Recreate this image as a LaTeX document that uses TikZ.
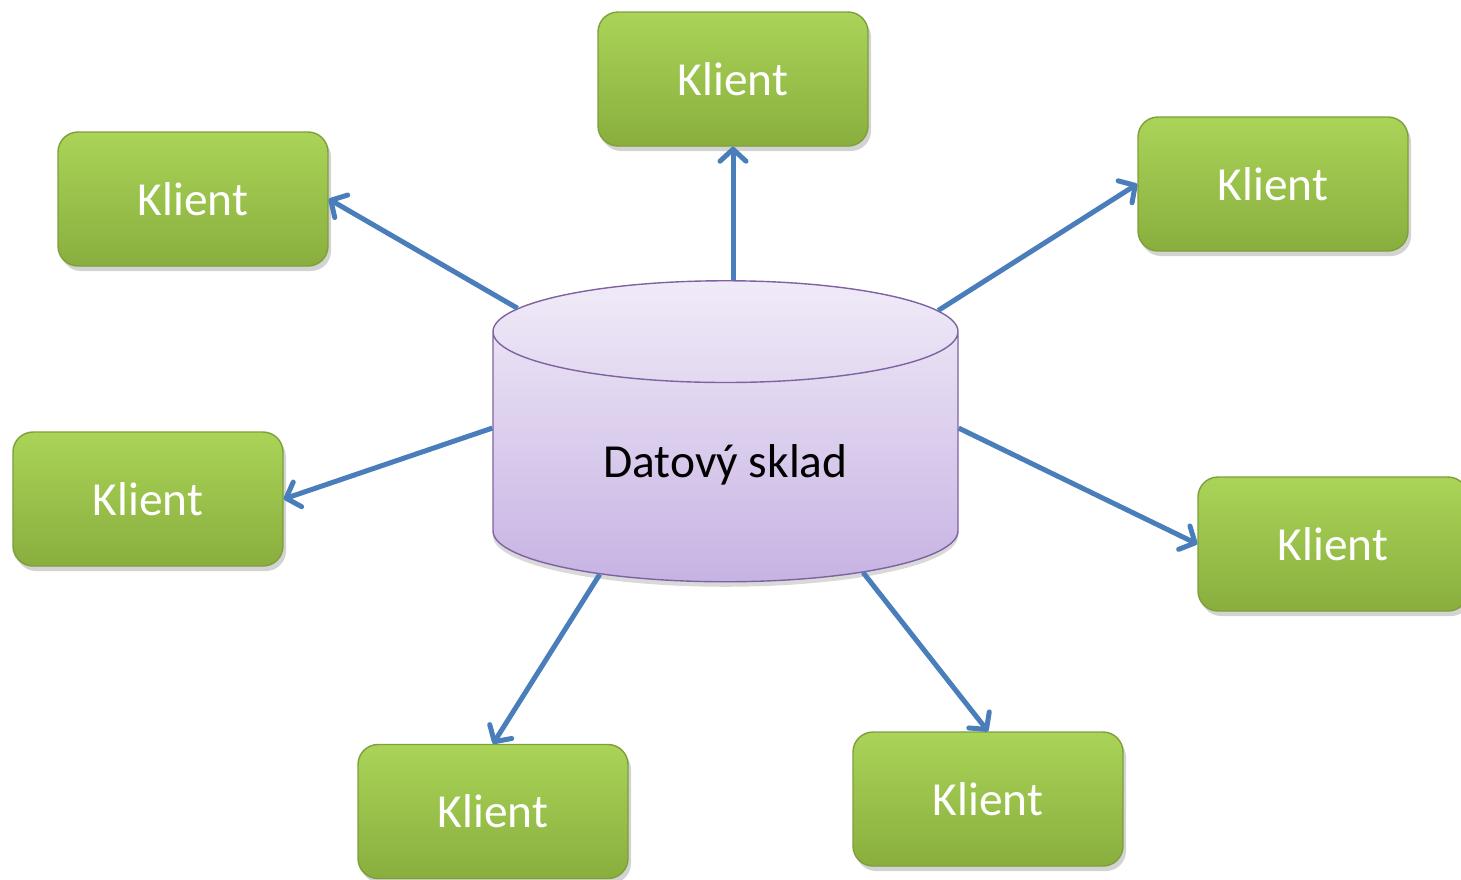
\documentclass[tikz,border=0pt]{standalone}
\usepackage{fontspec}
\setmainfont{Carlito}
\usetikzlibrary{shapes.geometric,shadows,arrows.meta}
\definecolor{klientTop}{HTML}{AAD458}
\definecolor{klientBottom}{HTML}{89AE3E}
\definecolor{klientLine}{HTML}{7E9F3A}
\definecolor{skladTop}{HTML}{F0EBF8}
\definecolor{skladBottom}{HTML}{C7B3E3}
\definecolor{skladLine}{HTML}{7F63A1}
\definecolor{linkBlue}{HTML}{4A7EBB}
\tikzstyle{klient}=[rectangle, rounded corners=0.2cm, draw=klientLine, thin, top color=klientTop, bottom color=klientBottom, minimum width=2.7cm, minimum height=1.34cm, text=white, font=\fontsize{13.5}{16}\selectfont, drop shadow={shadow xshift=0.03cm, shadow yshift=-0.05cm, opacity=0.35}]
\tikzstyle{sklad}=[cylinder, shape border rotate=90, aspect=0.38, draw=skladLine, thin, top color=skladTop, bottom color=skladBottom, minimum width=4.65cm, minimum height=3.01cm, font=\fontsize{13.5}{16}\selectfont, drop shadow={shadow xshift=0cm, shadow yshift=-0.05cm, opacity=0.3}]
\tikzstyle{link}=[draw=linkBlue, line width=0.05cm, -{Straight Barb[round, length=0.12cm, width=0.26cm]}]

\begin{document}
\begin{tikzpicture}
    \useasboundingbox (0,0) rectangle (14.61,-8.79);

    \node (db) at (7.255, -4.65) [sklad] {Datový sklad};

    \node (k1) at (7.33,  -0.79) [klient] {Klient};
    \node (k2) at (1.93,  -1.99) [klient] {Klient};
    \node (k3) at (12.73, -1.84) [klient] {Klient};
    \node (k4) at (1.48,  -4.99) [klient] {Klient};
    \node (k5) at (13.33, -5.44) [klient] {Klient};
    \node (k6) at (4.93,  -8.115) [klient] {Klient};
    \node (k7) at (9.88,  -7.99) [klient] {Klient};

    \draw (k1.south |- db.north) -- (k1.south) [link];
    \draw (db.143) -- (k2.east) [link];
    \draw (db.36) -- (k3.west) [link];
    \draw (db.171) -- (k4.east) [link];
    \draw (db.9) -- (k5.west) [link];
    \draw (db.221) -- (k6.north) [link];
    \draw (db.322) -- (k7.north) [link];
  \end{tikzpicture}
\end{document}
